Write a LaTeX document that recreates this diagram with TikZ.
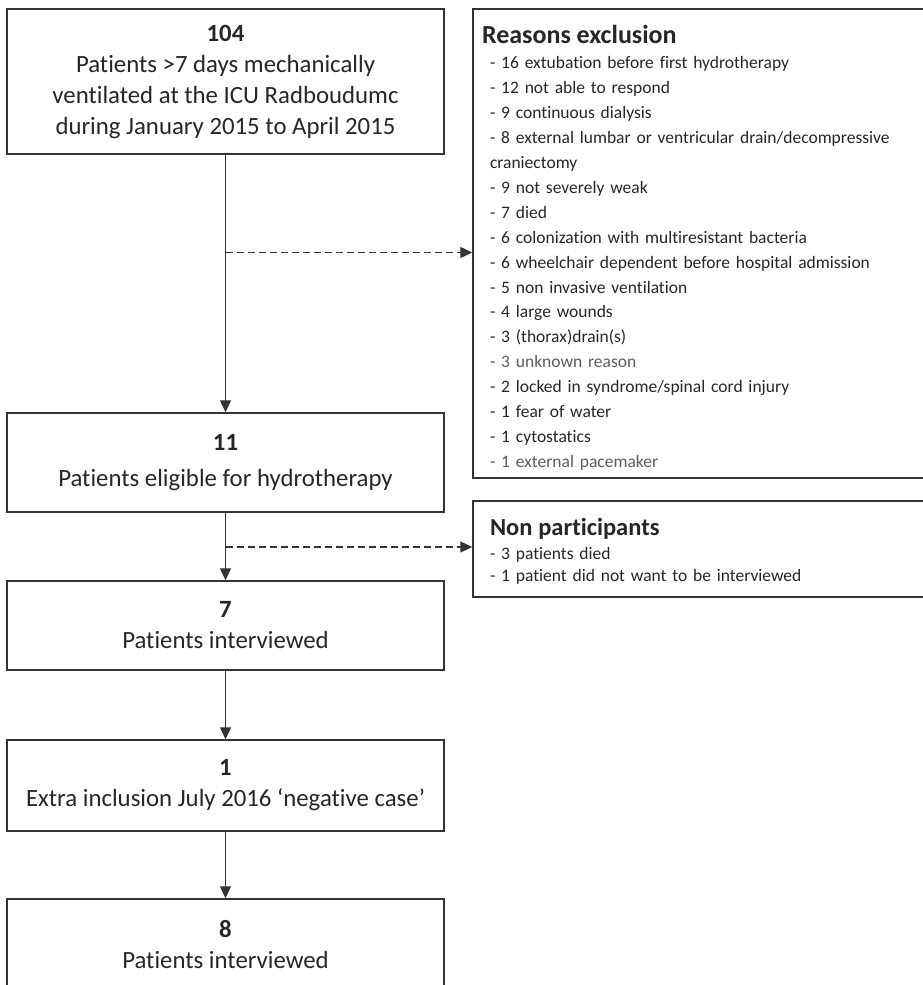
\documentclass[tikz,border=0pt]{standalone}
\usepackage{fontspec}
\setmainfont{Carlito}[Ligatures=NoCommon]
\usetikzlibrary{arrows.meta, positioning, calc}

\definecolor{linegray}{HTML}{333333}
\definecolor{inkgray}{HTML}{262626}
\definecolor{palegray}{HTML}{5C5C5C}

\begin{document}
\begin{tikzpicture}[x=1pt, y=-1pt, >={Triangle[length=12pt, width=11pt]},
    flowbox/.style={draw=linegray, line width=1.5pt, text=inkgray, minimum width=437pt,
        align=center, inner sep=0pt, font=\fontsize{24.8}{31}\selectfont},
    sidebox/.style={draw=linegray, line width=1.5pt, text=inkgray, text width=433pt,
        inner xsep=17pt, inner ysep=0pt, align=left, font=\fontsize{17.5}{24.95}\selectfont},
    flow/.style={->, draw=linegray, line width=1.4pt},
    sideflow/.style={->, draw=linegray, line width=1.4pt, dash pattern=on 7pt off 4pt}]

    \useasboundingbox (0,0) rectangle (923,985);

    % Main flow
    \node[flowbox, minimum height=145pt] (screened) at (225.5,81.5)
        {\textbf{104}\\ Patients >7 days mechanically\\ ventilated at the ICU Radboudumc\\ during January 2015 to April 2015};
    \node[flowbox, minimum height=99pt] (eligible) at (225.5,462.5)
        {\textbf{11}\\[5pt] Patients eligible for hydrotherapy};
    \node[flowbox, minimum height=89pt] (interviewed) at (225.5,625.5)
        {\textbf{7}\\ Patients interviewed};
    \node[flowbox, minimum height=91pt] (extra) at (225.5,785.5)
        {\textbf{1}\\ Extra inclusion July 2016 `negative case'};
    \node[flowbox, minimum height=91pt] (total) at (225.5,944.5)
        {\textbf{8}\\ Patients interviewed};

    % Side boxes
    \node[sidebox, minimum height=469pt] (reasons) at (706.5,243.5)
        {\hspace*{-8pt}\rule{0pt}{27pt}{\fontsize{26}{25}\selectfont\bfseries Reasons exclusion}\\[0pt]
        - 16 extubation before first hydrotherapy\\
        - 12 not able to respond\\
        - 9 continuous dialysis\\
        - 8 external lumbar or ventricular drain/decompressive\\
        craniectomy\\
        - 9 not severely weak\\
        - 7 died\\
        - 6 colonization with multiresistant bacteria\\
        - 6 wheelchair dependent before hospital admission\\
        - 5 non invasive ventilation\\
        - 4 large wounds\\
        - 3 (thorax)drain(s)\\
        \textcolor{palegray}{- 3 unknown reason}\\
        - 2 locked in syndrome/spinal cord injury\\
        - 1 fear of water\\
        - 1 cytostatics\\
        \textcolor{palegray}{- 1 external pacemaker}};
    \node[sidebox, minimum height=96pt] (nonpart) at (706.5,549)
        {\rule{0pt}{22pt}{\fontsize{24.5}{25}\selectfont\bfseries Non participants}\\[-1pt]
        - 3 patients died\\[-3pt]
        - 1 patient did not want to be interviewed};

    % Connectors
    \coordinate (split1) at (225.5,252.5);
    \coordinate (split2) at (225.5,547);
    \draw[flow] (screened) -- (eligible);
    \draw[flow] (eligible) -- (interviewed);
    \draw[flow] (interviewed) -- (extra);
    \draw[flow] (extra) -- (total);
    \draw[sideflow] (split1) -- (split1 -| reasons.west);
    \draw[sideflow] (split2) -- (split2 -| nonpart.west);

\end{tikzpicture}
\end{document}
